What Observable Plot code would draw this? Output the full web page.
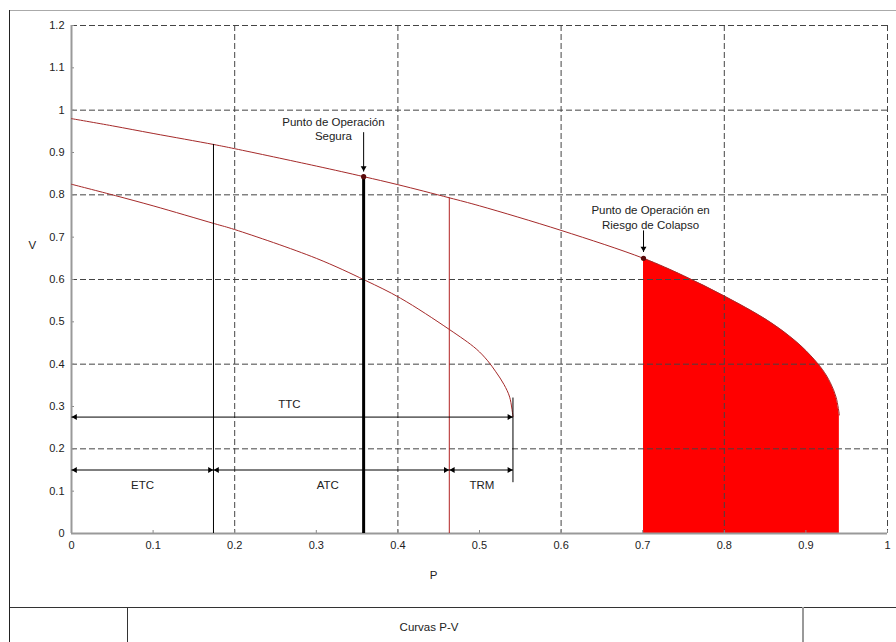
<!DOCTYPE html>
<html>
<head>
<meta charset="utf-8">
<script src="https://cdn.jsdelivr.net/npm/d3@7"></script>
<script src="https://cdn.jsdelivr.net/npm/@observablehq/plot@0.6"></script>
<style>
  html, body { margin: 0; padding: 0; background: #fff; }
  #chart { width: 896px; height: 642px; }
</style>
</head>
<body>
<div id="chart"></div>
<script>
// ---- data ----
const upperP = [0, 0.05, 0.1, 0.174, 0.2, 0.3, 0.358, 0.4, 0.463, 0.5, 0.6, 0.701, 0.75, 0.8, 0.85, 0.88, 0.9, 0.92, 0.93, 0.937, 0.941];
const upperV = [0.98, 0.963, 0.945, 0.919, 0.909, 0.868, 0.843, 0.824, 0.793, 0.774, 0.716, 0.65, 0.609, 0.561, 0.507, 0.466, 0.432, 0.388, 0.356, 0.322, 0.28];
const lowerP = [0, 0.054, 0.1, 0.175, 0.2, 0.3, 0.36, 0.403, 0.463, 0.496, 0.51, 0.52, 0.53, 0.537, 0.541];
const lowerV = [0.825, 0.798, 0.774, 0.732, 0.718, 0.65, 0.598, 0.556, 0.482, 0.436, 0.408, 0.382, 0.352, 0.322, 0.276];
const collapseP = 0.701;          // start of the red (collapse) region
const xTicks = [0, 0.1, 0.2, 0.3, 0.4, 0.5, 0.6, 0.7, 0.8, 0.9, 1];
const yTicks = [0, 0.1, 0.2, 0.3, 0.4, 0.5, 0.6, 0.7, 0.8, 0.9, 1, 1.1, 1.2];
const xGrid = [0.2, 0.4, 0.6, 0.8, 1];
const yGrid = [0.2, 0.4, 0.6, 0.8, 1, 1.2];
// vertical limit lines: ETC boundary, safe operating point, ATC boundary, TTC end
const etcP = 0.174, etcV = 0.919;
const opP = 0.358, opV = 0.843;
const atcP = 0.463, atcV = 0.793;
const ttcP = 0.541, ttcV1 = 0.12, ttcV2 = 0.32;
// horizontal dimension arrows
const spanNames = ["TTC", "ETC", "ATC", "TRM"];
const spanStart = [0, 0, 0.174, 0.463];
const spanEnd = [0.541, 0.174, 0.463, 0.541];
const spanV = [0.275, 0.15, 0.15, 0.15];
const spanLabelP = [0.267, 0.087, 0.314, 0.503];
const spanLabelV = [0.305, 0.115, 0.115, 0.115];
// annotations
const noteText = ["Punto de Operación\nSegura", "Punto de Operación en\nRiesgo de Colapso"];
const noteP = [0.321, 0.7096];
const noteV = [0.957, 0.748];
const notePointP = [0.358, 0.701];
const notePointV = [0.843, 0.650];
const noteArrowV1 = [0.948, 0.716];
const noteArrowV2 = [0.855, 0.665];

// ---- derived tables ----
const upper = upperP.map((p, i) => ({P: p, V: upperV[i]}));
const lower = lowerP.map((p, i) => ({P: p, V: lowerV[i]}));
const collapse = upper.filter(d => d.P >= collapseP);
const spans = spanNames.map((n, i) => ({name: n, x1: spanStart[i], x2: spanEnd[i], V: spanV[i], lp: spanLabelP[i], lv: spanLabelV[i]}));
const notes = noteText.map((t, i) => ({text: t, P: noteP[i], V: noteV[i], pp: notePointP[i], pv: notePointV[i], a1: noteArrowV1[i], a2: noteArrowV2[i]}));

const curveColor = "#a52a2a";
const gridStyle = {stroke: "#444", strokeWidth: 1, strokeDasharray: "6,3"};
const font = "'Liberation Sans', Arial, Helvetica, sans-serif";

const chart = Plot.plot({
  width: 896,
  height: 642,
  marginLeft: 71,
  marginRight: 9,
  marginTop: 25,
  marginBottom: 109,
  x: {domain: [0, 1]},
  y: {domain: [0, 1.2]},
  style: {fontFamily: font, fontSize: "11px", color: "#222", background: "#fff", overflow: "visible"},
  marks: [
    Plot.areaY(collapse, {x: "P", y: "V", fill: "#ff0000", curve: "catmull-rom"}),
    Plot.ruleX(xGrid, gridStyle),
    Plot.ruleY(yGrid, gridStyle),
    Plot.axisY({ticks: yTicks, tickSize: -3, tickPadding: 10, tickFormat: d => String(d), label: null, stroke: "#888"}),
    Plot.axisX({ticks: xTicks, tickSize: -3, tickPadding: 11, tickFormat: d => String(d), label: null, stroke: "#888"}),
    Plot.ruleX([0], {stroke: "#999", strokeWidth: 2}),
    Plot.ruleY([0], {stroke: "#999", strokeWidth: 2}),
    // curves
    Plot.line(upper, {x: "P", y: "V", stroke: curveColor, strokeWidth: 1, curve: "catmull-rom"}),
    Plot.line(lower, {x: "P", y: "V", stroke: curveColor, strokeWidth: 1, curve: "catmull-rom"}),
    // vertical limit lines
    Plot.ruleX([etcP], {y1: 0, y2: etcV, stroke: "#000", strokeWidth: 1}),
    Plot.ruleX([opP], {y1: 0, y2: opV, stroke: "#000", strokeWidth: 3}),
    Plot.ruleX([atcP], {y1: 0, y2: atcV, stroke: "#b22222", strokeWidth: 1}),
    Plot.ruleX([ttcP], {y1: ttcV1, y2: ttcV2, stroke: "#000", strokeWidth: 1}),
    // dimension arrows
    Plot.link(spans, {x1: "x1", x2: "x2", y1: "V", y2: "V", stroke: "#000", strokeWidth: 1}),
    Plot.dot(spans, {x: "x1", y: "V", symbol: "triangle", r: 2.2, rotate: -90, fill: "#000", stroke: "none", dx: 3.6}),
    Plot.dot(spans, {x: "x2", y: "V", symbol: "triangle", r: 2.2, rotate: 90, fill: "#000", stroke: "none", dx: -3.6}),
    Plot.text(spans, {x: "lp", y: "lv", text: "name", fontSize: 11.5, fill: "#222"}),
    // annotations
    Plot.link(notes, {x1: "pp", x2: "pp", y1: "a1", y2: "a2", stroke: "#000", strokeWidth: 1}),
    Plot.dot(notes, {x: "pp", y: "a2", symbol: "triangle", r: 2.2, rotate: 180, fill: "#000", stroke: "none", dy: -3.6}),
    Plot.dot(notes, {x: "pp", y: "pv", r: 2.6, fill: "#5a0a0a", stroke: "none"}),
    Plot.text(notes, {x: "P", y: "V", text: "text", fontSize: 11.5, lineHeight: 1.24, fill: "#222", lineAnchor: "middle"}),
    // axis titles
    Plot.text(["P"], {frameAnchor: "bottom", dx: -46, dy: 45, fontSize: 11.5, fill: "#222"}),
    Plot.text(["V"], {frameAnchor: "left", dx: -43, dy: -34, fontSize: 11.5, fill: "#222"})
  ]
});

document.getElementById("chart").appendChild(chart);

// figure frame and caption table
const svg = d3.select(chart);
const frame = svg.append("g");
frame.append("line").attr("x1", 10).attr("x2", 896).attr("y1", 10.5).attr("y2", 10.5).attr("stroke", "#aaa");
frame.append("line").attr("x1", 9.5).attr("x2", 9.5).attr("y1", 10).attr("y2", 642).attr("stroke", "#222");
frame.append("line").attr("x1", 10).attr("x2", 896).attr("y1", 607.5).attr("y2", 607.5).attr("stroke", "#333");
frame.append("line").attr("x1", 127.5).attr("x2", 127.5).attr("y1", 607).attr("y2", 642).attr("stroke", "#333");
frame.append("line").attr("x1", 803).attr("x2", 803).attr("y1", 607).attr("y2", 642).attr("stroke", "#999").attr("stroke-width", 2);
frame.append("text").attr("x", 429).attr("y", 627).attr("dy", "0.32em").attr("text-anchor", "middle")
  .attr("font-size", 11.5).attr("fill", "#222").text("Curvas P-V");
</script>
</body>
</html>
